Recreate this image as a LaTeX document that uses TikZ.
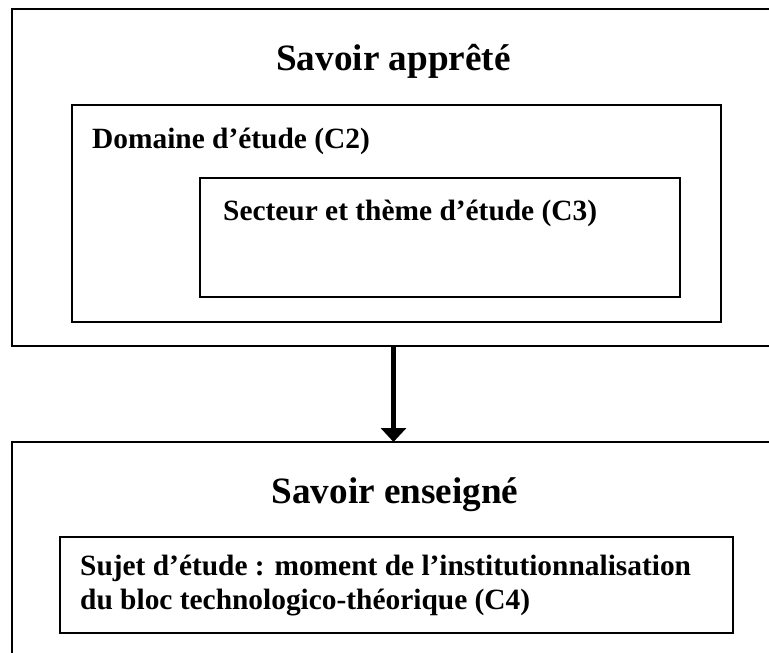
\documentclass[tikz,border=0pt]{standalone}
\usepackage{fontspec}
\setmainfont{Liberation Serif}
\usetikzlibrary{arrows.meta}
\begin{document}
\begin{tikzpicture}[x=1pt,y=-1pt,
  frame/.style={draw=black, line width=1.8pt, inner sep=0pt, outer sep=0pt},
  inner/.style={draw=black, line width=1.5pt, inner sep=0pt, outer sep=0pt},
  title/.style={font=\bfseries\fontsize{37.2}{44}\selectfont, inner sep=0pt, anchor=base},
  label/.style={font=\bfseries\fontsize{29.4}{34}\selectfont, inner sep=0pt, anchor=base west},
  bigarrow/.style={line width=5.5pt, -{Triangle[width=25pt,length=14pt]}}]
\useasboundingbox (0,0) rectangle (769,653);
\clip (0,0) rectangle (769,653);
% top block
\node[frame, minimum width=770pt, minimum height=337pt, anchor=north west] (apprete) at (12,9) {};
\node[inner, minimum width=649pt, minimum height=217pt, anchor=north west] (domaine) at (72,105) {};
\node[inner, minimum width=480pt, minimum height=119pt, anchor=north west] (secteur) at (200,178) {};
\node[title] (t1) at (393.5,70) {Savoir apprêté};
\node[label] (l2) at (92,148) {Domaine d’étude (C2)};
\node[label] (l3) at (223,220) {Secteur et thème d’étude (C3)};
% bottom block
\node[frame, minimum width=770pt, minimum height=240pt, anchor=north west] (enseigne) at (12,442) {};
\node[inner, minimum width=673pt, minimum height=96pt, anchor=north west] (sujet) at (60,537) {};
\node[title] (t2) at (395,503) {Savoir enseigné};
\node[label] (l4) at (80,575) {Sujet d’étude : moment de l’institutionnalisation};
\node[label] (l5) at (80,609) {du bloc technologico-théorique (C4)};
% arrow
\draw[bigarrow] (apprete.south -| t1) -- (enseigne.north -| t1);
\end{tikzpicture}
\end{document}
